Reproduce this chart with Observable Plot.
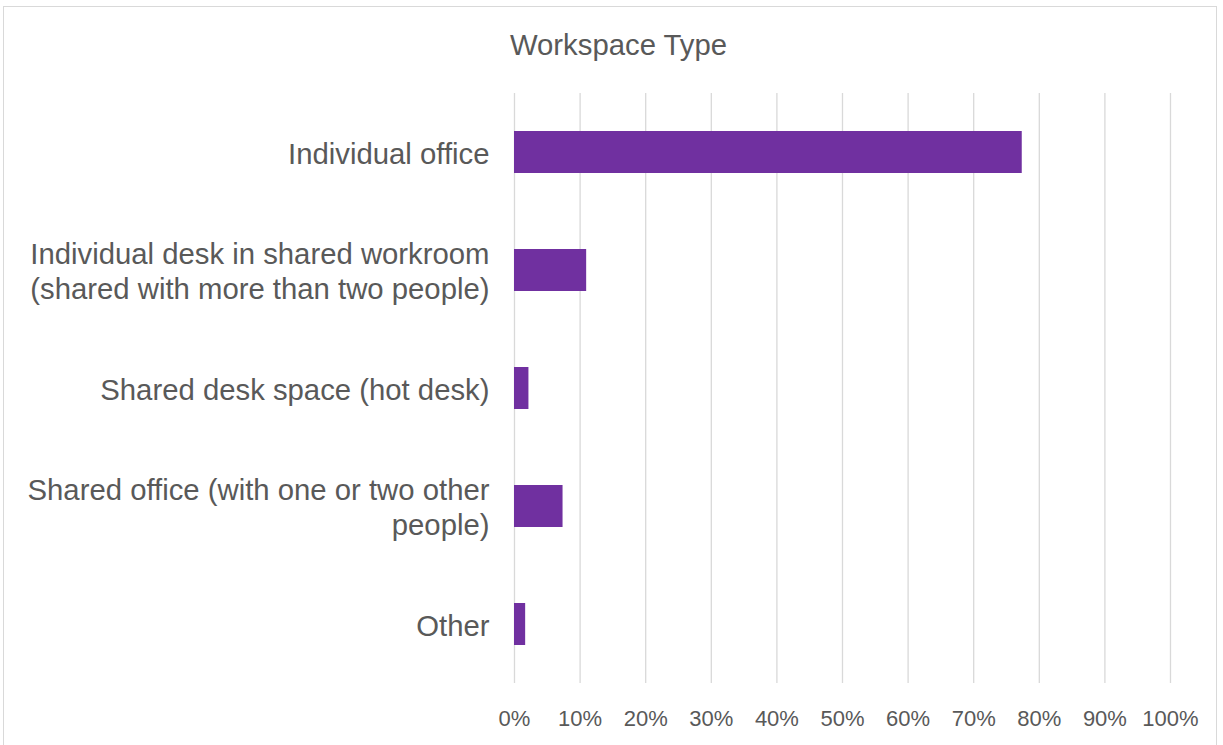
<!DOCTYPE html>
<html>
<head>
<meta charset="utf-8">
<script src="https://cdn.jsdelivr.net/npm/d3@7"></script>
<script src="https://cdn.jsdelivr.net/npm/@observablehq/plot@0.6"></script>
<style>
  html, body { margin: 0; padding: 0; background: #fff; }
  #wrap { position: relative; width: 1223px; height: 745px; overflow: hidden; font-family: "Liberation Sans", Arial, sans-serif; }
  #border { position: absolute; left: 3px; top: 6px; width: 1214px; height: 760px; border: 1px solid #d9d9d9; box-sizing: border-box; }
  #title { position: absolute; left: 0; width: 1237px; top: 28px; text-align: center; font-size: 29.3px; color: #595959; }
  #chart { position: absolute; left: 0; top: 0; }
</style>
</head>
<body>
<div id="wrap">
  <div id="border"></div>
  <div id="title">Workspace Type</div>
  <div id="chart"></div>
</div>
<script>
const categories = [
  "Individual office",
  "Individual desk in shared workroom\n(shared with more than two people)",
  "Shared desk space (hot desk)",
  "Shared office (with one or two other\npeople)",
  "Other"
];
const values = [0.774, 0.110, 0.022, 0.074, 0.017];
const xTicks = [0, 0.1, 0.2, 0.3, 0.4, 0.5, 0.6, 0.7, 0.8, 0.9, 1.0];

const data = categories.map((c, i) => ({category: c, value: values[i]}));

const chart = Plot.plot({
  width: 1223,
  height: 745,
  marginLeft: 514,
  marginRight: 53,
  marginTop: 93,
  marginBottom: 62,
  style: {fontFamily: '"Liberation Sans", Arial, sans-serif', color: "#595959", background: "transparent"},
  x: {domain: [0, 1]},
  y: {domain: categories, paddingInner: 0.645, paddingOuter: 0.3225},
  marks: [
    Plot.gridX(xTicks, {stroke: "#d9d9d9", strokeOpacity: 1, strokeWidth: 1.3}),
    Plot.barX(data, {x: "value", y: "category", fill: "#7030A0"}),
    Plot.axisX({ticks: xTicks, tickFormat: d3.format(".0%"), tickSize: 0, tickPadding: 27, fontSize: 22, fill: "#595959", label: null}),
    Plot.axisY({tickSize: 0, tickPadding: 25, fontSize: 29.3, lineHeight: 1.18, fill: "#595959", label: null, textOverflow: null})
  ]
});
document.getElementById("chart").appendChild(chart);
</script>
</body>
</html>
